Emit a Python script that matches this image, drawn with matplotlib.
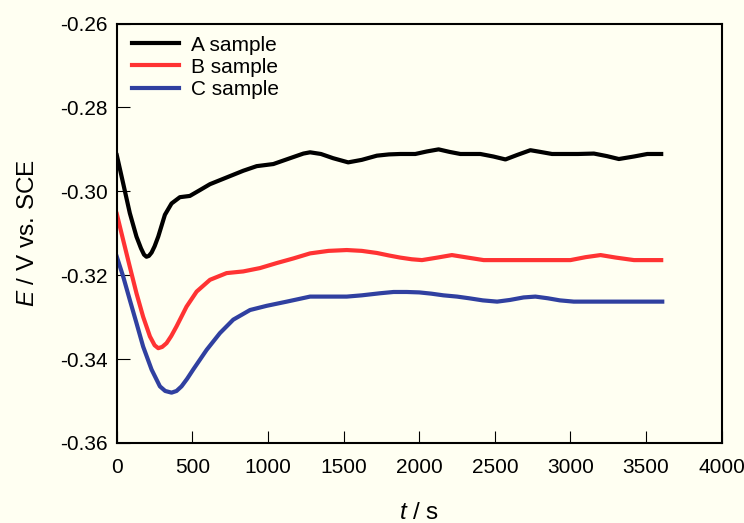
import matplotlib
matplotlib.use("Agg")
import matplotlib.pyplot as plt

t_a = [0, 42, 86, 130, 160, 180, 196, 212, 230, 250, 274, 318, 362, 417, 483, 550, 616, 726, 836, 925, 1035, 1146,
       1234, 1278, 1350, 1430, 1530, 1620, 1720, 1800, 1874, 1974, 2050, 2128, 2200, 2272, 2340, 2404, 2490, 2570,
       2650, 2735, 2800, 2878, 2950, 3050, 3155, 3240, 3320, 3420, 3508, 3600]
v_a = [-0.2914, -0.2981, -0.3052, -0.3108, -0.3136, -0.3151, -0.3156, -0.3154, -0.3146, -0.3131, -0.3108, -0.3056,
       -0.3029, -0.3014, -0.3011, -0.2997, -0.2983, -0.2967, -0.2951, -0.2940, -0.2935, -0.2921, -0.2910, -0.2907,
       -0.2911, -0.2921, -0.2931, -0.2925, -0.2915, -0.2912, -0.2911, -0.2911, -0.2905, -0.2900, -0.2906, -0.2911,
       -0.2911, -0.2911, -0.2917, -0.2924, -0.2913, -0.2902, -0.2906, -0.2911, -0.2911, -0.2911, -0.2910, -0.2916,
       -0.2923, -0.2917, -0.2911, -0.2911]

t_b = [0, 42, 86, 130, 174, 219, 250, 274, 300, 329, 360, 395, 461, 528, 616, 726, 836, 947, 1058, 1168, 1278, 1400,
       1521, 1620, 1720, 1800, 1874, 1950, 2018, 2120, 2216, 2320, 2426, 2600, 2800, 3000, 3100, 3199, 3300, 3420,
       3600]
v_b = [-0.3054, -0.3116, -0.3180, -0.3243, -0.3299, -0.3346, -0.3367, -0.3374, -0.3371, -0.3362, -0.3345, -0.3322,
       -0.3275, -0.3239, -0.3211, -0.3195, -0.3191, -0.3183, -0.3171, -0.3160, -0.3148, -0.3142, -0.3140, -0.3142,
       -0.3147, -0.3153, -0.3158, -0.3162, -0.3164, -0.3158, -0.3152, -0.3158, -0.3164, -0.3164, -0.3164, -0.3164,
       -0.3157, -0.3152, -0.3158, -0.3164, -0.3164]

t_c = [0, 42, 86, 130, 174, 230, 285, 320, 362, 395, 428, 465, 505, 594, 682, 770, 881, 991, 1124, 1278, 1400, 1521,
       1620, 1742, 1830, 1918, 2000, 2080, 2160, 2250, 2330, 2420, 2515, 2600, 2690, 2768, 2850, 2930, 3022, 3150,
       3300, 3607]
v_c = [-0.3156, -0.3203, -0.3259, -0.3314, -0.3370, -0.3425, -0.3465, -0.3476, -0.3480, -0.3476, -0.3465, -0.3447,
       -0.3425, -0.3378, -0.3338, -0.3306, -0.3283, -0.3273, -0.3263, -0.3251, -0.3251, -0.3251, -0.3248, -0.3243,
       -0.3240, -0.3240, -0.3241, -0.3244, -0.3248, -0.3251, -0.3255, -0.3260, -0.3263, -0.3259, -0.3253, -0.3251,
       -0.3255, -0.3260, -0.3263, -0.3263, -0.3263, -0.3263]

labels = ["A sample", "B sample", "C sample"]
colors = ["#000000", "#FF3333", "#3040A0"]
x_ticks = [0, 500, 1000, 1500, 2000, 2500, 3000, 3500, 4000]
y_ticks = [-0.36, -0.34, -0.32, -0.30, -0.28, -0.26]

plt.rcParams['font.family'] = ['Liberation Sans', 'DejaVu Sans']
plt.rcParams['mathtext.fontset'] = 'custom'
plt.rcParams['mathtext.it'] = 'Liberation Sans:italic'
plt.rcParams['mathtext.rm'] = 'Liberation Sans'
bg = "#FFFFF2"
fig = plt.figure(figsize=(7.44, 5.23), dpi=100, facecolor=bg)
ax = fig.add_axes([0.157, 0.153, 0.813, 0.802])
ax.set_facecolor(bg)

for t, v, lab, c in zip([t_a, t_b, t_c], [v_a, v_b, v_c], labels, colors):
    ax.plot(t, v, color=c, lw=3, label=lab, solid_joinstyle='round')

ax.set_xlim(0, 4000)
ax.set_ylim(-0.36, -0.26)
ax.set_xticks(x_ticks)
ax.set_yticks(y_ticks)
ax.set_xticklabels([str(x) for x in x_ticks])
ax.set_yticklabels(["%.2f" % y for y in y_ticks])
ax.tick_params(direction='in', length=9, width=0.8, labelsize=15)
ax.tick_params(axis='x', pad=11)
ax.tick_params(axis='y', pad=6.5)
for s in ax.spines.values():
    s.set_linewidth(1.5)

ax.set_xlabel("$t$ / s", fontsize=17.5, labelpad=17.5)
ax.set_ylabel("$E$ / V vs. SCE", fontsize=17.5, labelpad=15)

leg = ax.legend(loc='upper left', bbox_to_anchor=(0.011, 0.991), frameon=False, fontsize=15,
                handlelength=2.25, handletextpad=0.57, labelspacing=0.15, borderaxespad=0.0)

fig.savefig("out.png", dpi=100, facecolor=bg)
